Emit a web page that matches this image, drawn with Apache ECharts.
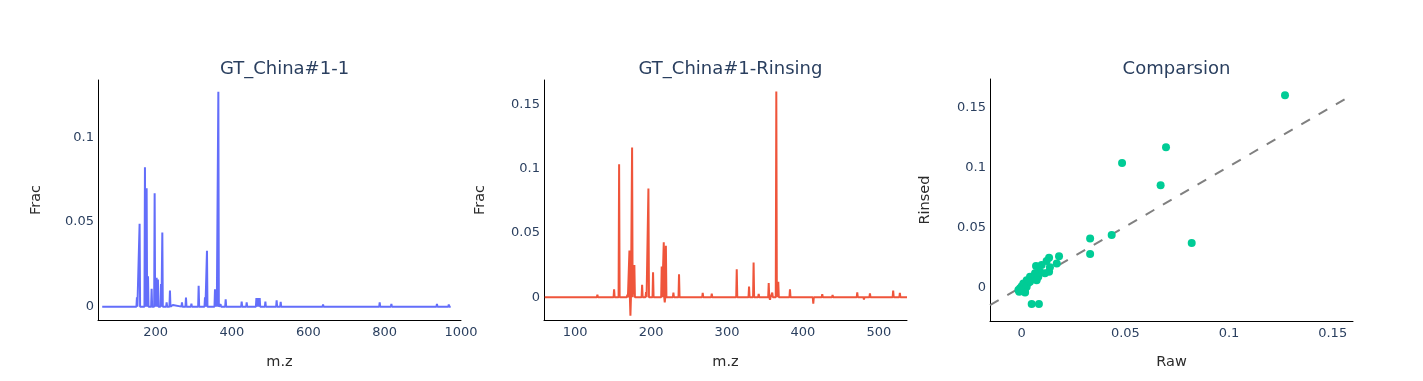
<!DOCTYPE html>
<html><head><meta charset="utf-8">
<script src="https://cdn.jsdelivr.net/npm/echarts@6/dist/echarts.min.js"></script>
<style>html,body{margin:0;padding:0;background:#fff}#c{width:1423px;height:381px}</style>
</head><body><div id="c"></div>
<script>
// Panel 1: GT_China#1-1 (raw spectrum) peaks
const rawMz   = [105.6, 130, 151, 158, 172, 176.4, 180, 189.5, 197.4, 202.6, 206, 214, 217.5, 228.8, 237.5, 245, 269, 279.5, 293.7, 312.7, 329.3, 334.5, 355.5, 359, 364.3, 370, 383.5, 400, 425.4, 438.5, 464, 468, 472.6, 487.5, 517, 527.6, 560, 638.6, 669, 787, 817.6, 937, 968];
const rawFrac = [0.001, 0.0008, 0.0055, 0.049, 0.0824, 0.070, 0.018, 0.0105, 0.067, 0.017, 0.016, 0.0134, 0.0438, 0.0026, 0.0095, 0.001, 0.0026, 0.0053, 0.0018, 0.0124, 0.0055, 0.033, 0.0103, 0.006, 0.127, 0.0015, 0.0043, 0.0008, 0.003, 0.0026, 0.005, 0.005, 0.005, 0.003, 0.0037, 0.0028, 0.0008, 0.0012, 0.0008, 0.0026, 0.0016, 0.0016, 0.0012];
const rawRange = [60, 973];

// Panel 2: GT_China#1-Rinsing peaks
const rinMz   = [104.3, 129.3, 151.3, 157.9, 168.8, 171.5, 172.8, 175, 178, 184, 188.2, 193.4, 196.5, 202.6, 210, 214, 216.7, 218, 219.5, 229.4, 236.8, 250, 268, 279.9, 290, 300, 312.8, 329, 335, 341.7, 354.9, 356.6, 359.6, 364.9, 367.5, 382.9, 400, 413.6, 425.4, 439, 460, 471.5, 480.3, 488.2, 505, 518.8, 527.6];
const rinFrac = [0.0005, 0.002, 0.0062, 0.1034, 0.002, 0.0363, -0.0143, 0.1164, 0.025, 0.001, 0.0096, 0.004, 0.0845, 0.0194, 0.001, 0.024, 0.0428, -0.004, 0.040, 0.0036, 0.0179, 0.001, 0.0034, 0.0028, 0.001, 0.0012, 0.0218, 0.0083, 0.027, 0.0026, 0.011, -0.002, 0.0036, 0.16, 0.012, 0.0062, -0.001, -0.005, 0.0023, 0.0018, 0.001, 0.0039, -0.0018, 0.0031, 0.001, 0.0052, 0.0034];
const rinRange = [60, 537];

// Panel 3: Comparsion scatter
const cmpRaw    = [0.127, 0.0696, 0.0484, 0.067, 0.082, 0.0434, 0.033, 0.033, 0.018, 0.0169, 0.0132, 0.012, 0.0136, 0.0132, 0.0096, 0.0069, 0.0112, 0.0088, 0.0064, 0.004, 0.0024, 0.0008, -0.0008, -0.0012, 0.0016, 0, 0.0032, 0.0056, 0.008, 0.0048, 0.0083, -0.0016, 0.0005, 0.0024, 0.004, 0.0072, 0.0016, -0.0008];
const cmpRinsed = [0.160, 0.1167, 0.1036, 0.085, 0.0369, 0.0436, 0.0408, 0.0278, 0.026, 0.020, 0.0247, 0.022, 0.0167, 0.013, 0.0186, 0.0178, 0.0117, 0.013, 0.0117, 0.0088, 0.006, 0.0033, -0.0008, -0.0037, -0.0037, 0.001, 0.0038, 0.0075, 0.0088, -0.0139, -0.0139, -0.0022, -0.0017, 0.0005, 0.0047, 0.006, -0.0042, -0.0028];
const refLineX = [-0.0153, 0.1598];
const refLineY = [-0.0148, 0.1608];

const tick1X = [200, 400, 600, 800, 1000];
const tick1Y = [0, 0.05, 0.1];
const tick2X = [100, 200, 300, 400, 500];
const tick2Y = [0, 0.05, 0.1, 0.15];
const tick3X = [0, 0.05, 0.1, 0.15];
const tick3Y = [0, 0.05, 0.1, 0.15];

function sticks(mz, frac, range, hw) {
  const d = [[range[0], 0], [range[1], 0]];
  for (let i = 0; i < mz.length; i++) {
    d.push([mz[i] - hw, 0], [mz[i], frac[i]], [mz[i] + hw, 0]);
  }
  d.sort((a, b) => a[0] - b[0]);
  return d;
}

const FONT = 'DejaVu Sans';
const TICKC = '#2a3f5f';
const fmt = v => String(+(+v).toFixed(4));

function xAx(grid, min, max, ticks, name, gap) {
  return {
    type: 'value', gridIndex: grid, min: min, max: max,
    splitLine: {show: false}, axisTick: {show: false},
    axisLine: {show: true, onZero: false, lineStyle: {color: '#000', width: 1}},
    axisLabel: {customValues: ticks, formatter: fmt, color: TICKC, fontFamily: FONT, fontSize: 13, margin: 6, showMinLabel: true, showMaxLabel: true, hideOverlap: false},
    name: name, nameLocation: 'middle', nameGap: gap,
    nameTextStyle: {color: '#2b2b2b', fontFamily: FONT, fontSize: 14.5}
  };
}
function yAx(grid, min, max, ticks, name, gap) {
  return {
    type: 'value', gridIndex: grid, min: min, max: max,
    splitLine: {show: false}, axisTick: {show: false},
    axisLine: {show: true, onZero: false, lineStyle: {color: '#000', width: 1}},
    axisLabel: {customValues: ticks, formatter: fmt, color: TICKC, fontFamily: FONT, fontSize: 13, margin: 4, showMinLabel: true, showMaxLabel: true},
    name: name, nameLocation: 'middle', nameGap: gap, nameRotate: 90,
    nameTextStyle: {color: '#2b2b2b', fontFamily: FONT, fontSize: 14.5}
  };
}

const chart = echarts.init(document.getElementById('c'), null, {renderer: 'canvas'});
const titleStyle = {color: TICKC, fontFamily: FONT, fontSize: 18, fontWeight: 'normal'};
chart.setOption({
  animation: false,
  backgroundColor: '#fff',
  title: [
    {text: 'GT_China#1-1', left: 279.5, top: 55, textAlign: 'center', textStyle: titleStyle},
    {text: 'GT_China#1-Rinsing', left: 725.5, top: 55, textAlign: 'center', textStyle: titleStyle},
    {text: 'Comparsion', left: 1171.5, top: 55, textAlign: 'center', textStyle: titleStyle}
  ],
  grid: [
    {left: 98, top: 80, width: 363, height: 240},
    {left: 544, top: 80, width: 363, height: 240},
    {left: 990, top: 79, width: 363, height: 242}
  ],
  xAxis: [
    xAx(0, 49, 1000, tick1X, 'm.z', 35),
    xAx(1, 59, 537, tick2X, 'm.z', 35),
    xAx(2, -0.0153, 0.1598, tick3X, 'Raw', 34)
  ],
  yAxis: [
    yAx(0, -0.0079, 0.134, tick1Y, 'Frac', 54),
    yAx(1, -0.0177, 0.169, tick2Y, 'Frac', 56),
    yAx(2, -0.028, 0.1736, tick3Y, 'Rinsed', 57)
  ],
  series: [
    {type: 'line', xAxisIndex: 0, yAxisIndex: 0, data: sticks(rawMz, rawFrac, rawRange, 1.3), showSymbol: false, symbol: 'none', lineStyle: {color: '#636efa', width: 2}, itemStyle: {color: '#636efa'}},
    {type: 'line', xAxisIndex: 1, yAxisIndex: 1, data: sticks(rinMz, rinFrac, rinRange, 0.7), showSymbol: false, symbol: 'none', lineStyle: {color: '#EF553B', width: 2}, itemStyle: {color: '#EF553B'}},
    {type: 'line', xAxisIndex: 2, yAxisIndex: 2, data: refLineX.map((v, i) => [v, refLineY[i]]), showSymbol: false, symbol: 'none', clip: false, lineStyle: {color: '#808080', width: 2, type: [10, 10]}, z: 1},
    {type: 'scatter', xAxisIndex: 2, yAxisIndex: 2, data: cmpRaw.map((v, i) => [v, cmpRinsed[i]]), symbolSize: 8, itemStyle: {color: '#00cc96', opacity: 1}, z: 3}
  ]
});
</script>
</body></html>
